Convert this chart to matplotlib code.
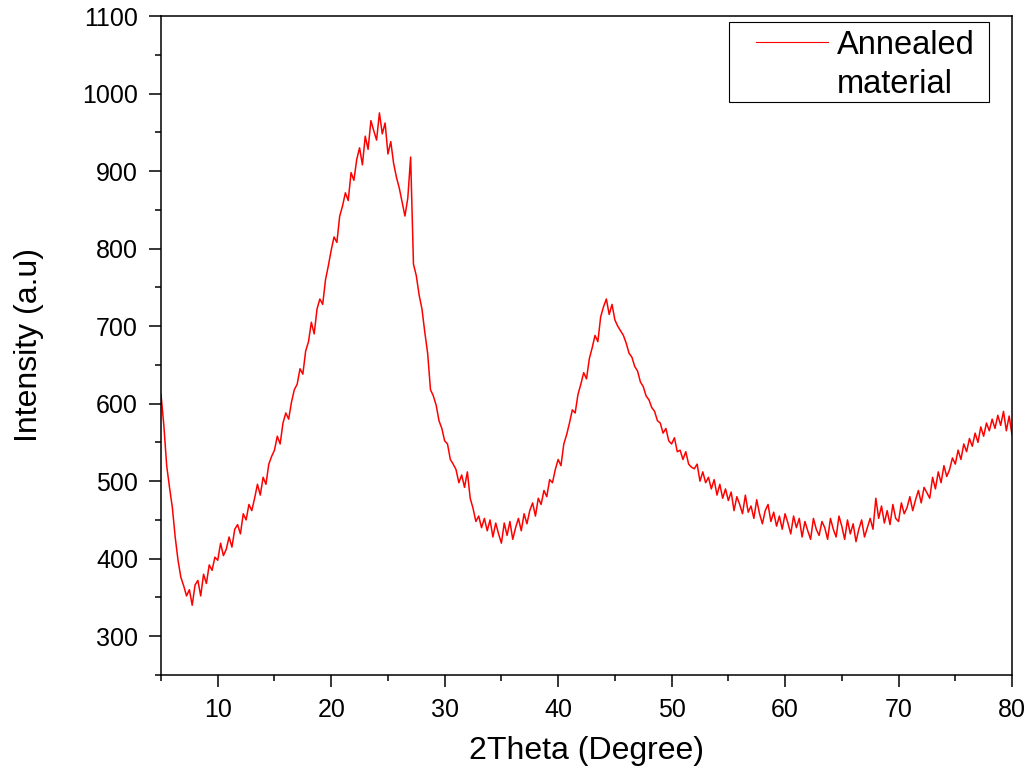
import numpy as np
import matplotlib
matplotlib.use("Agg")
import matplotlib.pyplot as plt
from matplotlib.lines import Line2D
from matplotlib.patches import Rectangle
from matplotlib.ticker import MultipleLocator

plt.rcParams['font.family'] = ['Liberation Sans', 'DejaVu Sans']

# 2Theta grid (degrees), step 0.25 from 5 to 80
two_theta = np.arange(5.0, 80.001, 0.25)

# Intensity values (4 per degree)
intensity = [
    612, 572, 520, 492,   # 5
    466, 428, 398, 376,   # 6
    365, 352, 360, 340,   # 7
    366, 372, 352, 380,   # 8
    368, 392, 385, 402,   # 9
    398, 420, 404, 412,   # 10
    428, 415, 438, 444,   # 11
    432, 458, 450, 470,   # 12
    462, 478, 496, 482,   # 13
    505, 496, 522, 532,   # 14
    540, 558, 548, 575,   # 15
    588, 580, 602, 618,   # 16
    625, 645, 638, 668,   # 17
    680, 705, 690, 722,   # 18
    735, 728, 760, 778,   # 19
    798, 815, 808, 842,   # 20
    855, 872, 862, 898,   # 21
    888, 915, 930, 908,   # 22
    945, 928, 965, 952,   # 23
    940, 975, 948, 962,   # 24
    922, 938, 910, 892,   # 25
    878, 860, 842, 865,   # 26
    918, 780, 765, 740,   # 27
    722, 692, 665, 618,   # 28
    610, 598, 578, 568,   # 29
    552, 548, 528, 522,   # 30
    515, 498, 508, 492,   # 31
    512, 478, 465, 448,   # 32
    455, 440, 452, 436,   # 33
    450, 428, 446, 432,   # 34
    420, 446, 430, 448,   # 35
    425, 440, 452, 436,   # 36
    458, 445, 462, 472,   # 37
    455, 478, 470, 488,   # 38
    480, 502, 498, 515,   # 39
    528, 520, 548, 560,   # 40
    575, 592, 588, 612,   # 41
    625, 640, 632, 658,   # 42
    672, 688, 680, 712,   # 43
    725, 735, 715, 728,   # 44
    708, 700, 694, 688,   # 45
    678, 665, 660, 648,   # 46
    642, 628, 622, 610,   # 47
    605, 595, 590, 578,   # 48
    575, 562, 568, 552,   # 49
    548, 556, 538, 540,   # 50
    528, 538, 522, 518,   # 51
    516, 522, 500, 512,   # 52
    498, 505, 490, 502,   # 53
    482, 496, 478, 490,   # 54
    475, 486, 462, 480,   # 55
    470, 458, 482, 460,   # 56
    468, 452, 476, 458,   # 57
    445, 462, 470, 448,   # 58
    460, 442, 455, 438,   # 59
    458, 446, 432, 455,   # 60
    440, 452, 428, 448,   # 61
    436, 425, 452, 438,   # 62
    430, 448, 440, 425,   # 63
    452, 438, 428, 455,   # 64
    442, 425, 450, 432,   # 65
    445, 422, 438, 450,   # 66
    428, 440, 452, 438,   # 67
    478, 452, 468, 446,   # 68
    462, 444, 470, 452,   # 69
    448, 472, 458, 466,   # 70
    480, 462, 476, 488,   # 71
    472, 492, 485, 478,   # 72
    505, 490, 512, 498,   # 73
    520, 506, 515, 530,   # 74
    522, 540, 528, 548,   # 75
    538, 555, 545, 562,   # 76
    550, 570, 558, 575,   # 77
    565, 580, 568, 585,   # 78
    572, 590, 565, 584,   # 79
    560,                  # 80
]

series_label = "Annealed\nmaterial"
x_label = "2Theta (Degree)"
y_label = "Intensity (a.u)"
x_ticks = [10, 20, 30, 40, 50, 60, 70, 80]
y_ticks = [300, 400, 500, 600, 700, 800, 900, 1000, 1100]

W, H = 1031, 778
fig = plt.figure(figsize=(W / 100, H / 100), dpi=100)
ax = fig.add_axes([161 / W, 1 - 675 / H, (1012 - 161) / W, (675 - 16) / H])

ax.plot(two_theta, intensity, color='#ff0000', linewidth=1.1)

ax.set_xlim(5, 80)
ax.set_ylim(250, 1100)
ax.set_xticks(x_ticks)
ax.set_yticks(y_ticks)
ax.xaxis.set_minor_locator(MultipleLocator(5))
ax.yaxis.set_minor_locator(MultipleLocator(50))
ax.tick_params(which='major', direction='out', length=8.5, width=1.1,
               labelsize=18, pad=8, top=False, right=False)
ax.tick_params(which='minor', direction='out', length=4.3, width=1.1,
               top=False, right=False)
for s in ax.spines.values():
    s.set_linewidth(1.1)

ax.set_xlabel(x_label, fontsize=23)
ax.xaxis.set_label_coords(0.5, -0.093)
ax.set_ylabel(y_label, fontsize=23)
ax.yaxis.set_label_coords(-0.138, 0.5)

handles = [Line2D([], [], color='#ff0000', linewidth=0.8),
           Line2D([], [], color='none')]
labels = series_label.split("\n")
leg = ax.legend(handles, labels, loc='upper right',
                bbox_to_anchor=(985 / W, 1 - 20 / H), bbox_transform=fig.transFigure,
                borderaxespad=0, fontsize=23.5, frameon=False,
                handlelength=2.2, handletextpad=0.3,
                labelspacing=0.25, borderpad=0.3)

# legend frame
fig.add_artist(Rectangle((729 / W, 1 - 102 / H), (989 - 729) / W, (102 - 22) / H,
                         transform=fig.transFigure, fill=False,
                         edgecolor='black', linewidth=0.8, zorder=6))

fig.savefig("out.png", dpi=100)
